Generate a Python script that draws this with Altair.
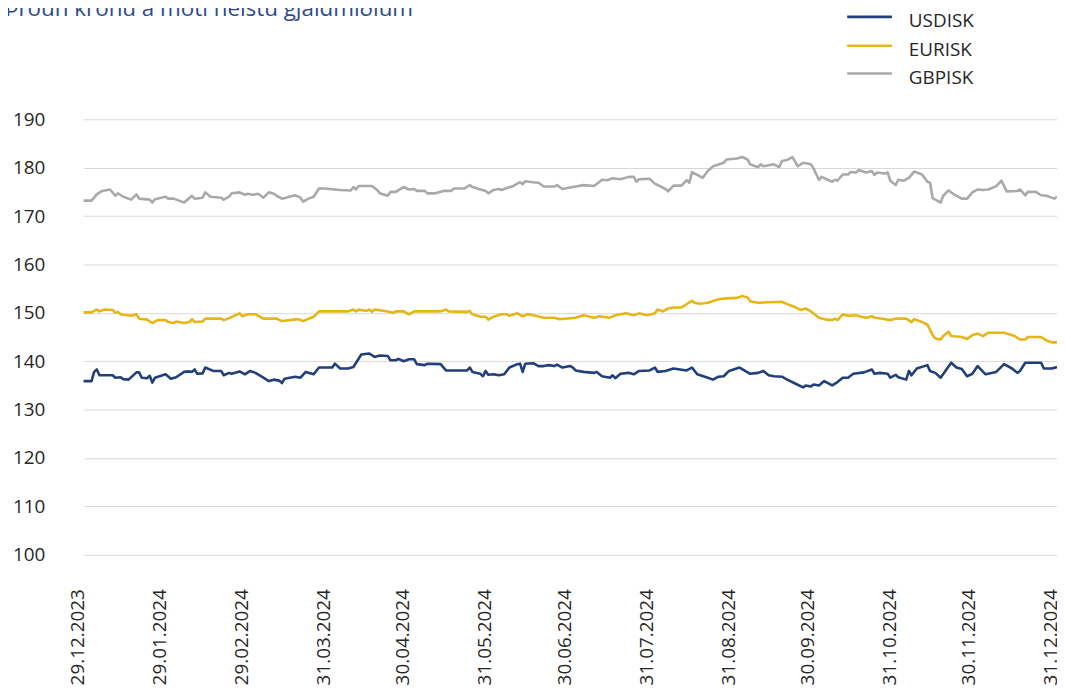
import altair as alt
import pandas as pd

title_text = "Þróun krónu á móti helstu gjaldmiðlum"
series_names = ["USDISK", "EURISK", "GBPISK"]
series_colors = ["#213f7a", "#e8b516", "#a9a9ac"]

start_date = "2023-12-29"
tick_dates = ["2023-12-29", "2024-01-29", "2024-02-29", "2024-03-31", "2024-04-30",
              "2024-05-31", "2024-06-30", "2024-07-31", "2024-08-31", "2024-09-30",
              "2024-10-31", "2024-11-30", "2024-12-31"]
y_ticks = [100, 110, 120, 130, 140, 150, 160, 170, 180, 190]

# days after 29.12.2023
usd_days = [0, 3, 4, 5, 6, 11, 12, 14, 15, 17, 20, 21, 22, 24, 25, 26, 27, 31, 33, 35, 38, 40, 41, 42, 43,
            45, 46, 49, 52, 53, 55, 56, 59, 61, 63, 65, 68, 70, 72, 74, 75, 76, 80, 82, 84, 87, 89, 94, 95,
            97, 100, 102, 105, 108, 110, 112, 115, 116, 118, 119, 121, 123, 125, 126, 129, 130, 135, 137,
            145, 146, 147, 150, 151, 152, 153, 155, 157, 159, 161, 164, 165, 166, 167, 170, 172, 174, 176,
            178, 179, 181, 184, 185, 186, 189, 193, 194, 196, 199, 200, 201, 203, 206, 208, 210, 214, 216,
            217, 220, 223, 228, 230, 232, 236, 238, 240, 242, 244, 248, 252, 255, 257, 259, 261, 264, 266,
            269, 272, 273, 275, 276, 278, 280, 283, 285, 287, 289, 291, 295, 298, 299, 301, 304, 305, 307,
            308, 311, 312, 313, 315, 319, 320, 322, 324, 328, 330, 332, 334, 336, 338, 341, 345, 348, 351,
            353, 354, 356, 362, 363, 366, 368]
usd_vals = [135.9, 135.9, 137.8, 138.3, 137.1, 137.1, 136.6, 136.7, 136.3, 136.2, 137.7, 137.7, 136.6,
            136.5, 137.0, 135.6, 136.6, 137.3, 136.4, 136.7, 137.8, 137.9, 137.8, 138.3, 137.4, 137.5,
            138.7, 138.0, 138.0, 137.1, 137.6, 137.4, 137.9, 137.3, 138.0, 137.6, 136.6, 135.9, 136.2,
            136.0, 135.5, 136.4, 136.8, 136.6, 137.8, 137.3, 138.7, 138.7, 139.5, 138.5, 138.5, 138.8,
            141.4, 141.6, 140.9, 141.2, 141.1, 140.2, 140.2, 140.5, 140.0, 140.4, 140.4, 139.4, 139.2,
            139.5, 139.4, 138.1, 138.1, 138.7, 137.8, 137.4, 136.9, 138.0, 137.2, 137.3, 137.1, 137.3,
            138.7, 139.4, 139.5, 137.8, 139.5, 139.6, 139.0, 139.0, 139.2, 139.0, 139.3, 138.7, 139.0,
            138.7, 138.1, 137.8, 137.6, 137.8, 136.9, 136.6, 137.1, 136.5, 137.4, 137.6, 137.3, 138.0,
            138.1, 138.7, 137.8, 138.0, 138.5, 138.1, 138.7, 137.3, 136.6, 136.2, 136.8, 136.9, 138.0,
            138.7, 137.4, 137.6, 138.0, 137.1, 136.9, 136.8, 136.2, 135.4, 134.6, 135.0, 134.8, 135.2,
            135.0, 135.9, 135.0, 135.7, 136.6, 136.6, 137.4, 137.7, 138.3, 137.4, 137.6, 137.4, 136.6,
            137.2, 136.7, 136.2, 138.0, 137.1, 138.5, 139.2, 138.0, 137.6, 136.6, 139.7, 138.7, 138.4,
            136.9, 137.4, 139.0, 137.3, 137.8, 139.4, 138.5, 137.6, 138.0, 139.7, 139.7, 138.5, 138.5,
            138.8]

eur_days = [0, 3, 5, 6, 8, 11, 12, 13, 14, 18, 20, 21, 24, 26, 28, 31, 32, 34, 35, 38, 40, 41, 42, 45, 46,
            52, 53, 55, 59, 60, 62, 65, 68, 73, 75, 81, 83, 86, 87, 89, 100, 102, 103, 104, 107, 108, 109,
            110, 115, 117, 118, 121, 123, 125, 135, 137, 138, 145, 146, 147, 150, 152, 153, 155, 158, 160,
            161, 164, 166, 168, 170, 174, 178, 180, 182, 186, 189, 193, 195, 199, 201, 205, 208, 210, 213,
            216, 217, 219, 221, 223, 226, 230, 231, 233, 236, 240, 243, 247, 249, 251, 252, 255, 264, 266,
            269, 271, 273, 275, 278, 281, 283, 284, 285, 287, 289, 292, 294, 296, 298, 299, 302, 305, 307,
            311, 313, 314, 317, 319, 321, 322, 324, 325, 327, 328, 332, 334, 336, 338, 340, 342, 348, 352,
            354, 356, 357, 362, 364, 366, 368]
eur_vals = [150.1, 150.1, 150.7, 150.3, 150.7, 150.6, 150.0, 150.2, 149.7, 149.4, 149.7, 148.8, 148.6,
            147.9, 148.5, 148.5, 148.1, 147.9, 148.2, 147.9, 148.1, 148.7, 148.1, 148.2, 148.8, 148.8,
            148.5, 148.9, 149.9, 149.3, 149.7, 149.7, 148.8, 148.8, 148.3, 148.7, 148.3, 149.0, 149.2,
            150.3, 150.3, 150.7, 150.3, 150.7, 150.4, 150.7, 150.2, 150.7, 150.3, 150.0, 150.3, 150.3,
            149.7, 150.3, 150.3, 150.7, 150.3, 150.2, 150.4, 149.7, 149.2, 149.2, 148.6, 149.2, 149.7,
            149.7, 149.4, 149.9, 149.3, 149.7, 149.5, 149.0, 149.0, 148.7, 148.8, 149.0, 149.5, 149.0,
            149.3, 149.0, 149.5, 149.9, 149.5, 149.9, 149.5, 149.9, 150.7, 150.3, 150.9, 151.1, 151.1,
            152.5, 152.1, 151.9, 152.1, 152.8, 153.0, 153.1, 153.5, 153.2, 152.4, 152.1, 152.3, 151.8,
            151.2, 150.6, 150.9, 150.3, 149.0, 148.6, 148.5, 148.8, 148.5, 149.7, 149.4, 149.5, 149.2,
            149.0, 149.3, 149.0, 148.8, 148.5, 148.8, 148.8, 148.1, 148.7, 148.1, 147.6, 145.4, 144.7,
            144.5, 145.2, 146.1, 145.2, 145.0, 144.6, 145.4, 145.7, 145.2, 145.9, 145.9, 145.2, 144.5,
            144.5, 145.0, 145.0, 144.3, 143.9, 143.9]

gbp_days = [0, 3, 5, 7, 10, 12, 13, 15, 18, 20, 21, 25, 26, 27, 31, 32, 34, 38, 41, 42, 45, 46, 48, 52,
            53, 55, 56, 59, 61, 62, 64, 66, 68, 70, 72, 73, 75, 80, 82, 83, 85, 87, 89, 91, 97, 101, 102,
            103, 104, 109, 111, 112, 115, 116, 118, 121, 123, 125, 126, 129, 130, 133, 136, 139, 140, 144,
            146, 147, 152, 153, 155, 157, 158, 160, 162, 165, 166, 167, 170, 172, 174, 178, 179, 181, 185,
            189, 193, 196, 198, 200, 203, 206, 208, 209, 210, 214, 216, 220, 221, 223, 226, 228, 229, 230,
            232, 234, 236, 238, 242, 243, 247, 249, 251, 252, 255, 256, 257, 261, 263, 264, 266, 268, 270,
            272, 275, 276, 278, 279, 283, 284, 285, 287, 289, 290, 292, 293, 296, 298, 299, 300, 303, 304,
            305, 307, 308, 310, 312, 314, 317, 319, 320, 321, 324, 325, 327, 329, 332, 334, 336, 338, 340,
            342, 345, 347, 349, 353, 354, 356, 357, 360, 362, 364, 367, 368]
gbp_vals = [173.2, 173.2, 174.5, 175.2, 175.5, 174.2, 174.7, 174.0, 173.4, 174.5, 173.6, 173.4, 172.8,
            173.5, 174.0, 173.6, 173.6, 172.8, 174.2, 173.6, 173.8, 174.9, 174.0, 173.8, 173.4, 174.0,
            174.7, 174.9, 174.4, 174.6, 174.4, 174.6, 173.8, 174.9, 174.6, 174.2, 173.6, 174.3, 173.8,
            173.0, 173.6, 174.0, 175.7, 175.7, 175.4, 175.3, 176.0, 175.5, 176.2, 176.2, 175.4, 174.7,
            174.2, 175.0, 175.0, 176.0, 175.5, 175.6, 175.2, 175.2, 174.7, 174.7, 175.2, 175.2, 175.7,
            175.7, 176.4, 176.0, 175.2, 174.7, 175.4, 175.6, 175.4, 175.8, 176.1, 177.0, 176.6, 177.2,
            177.0, 176.9, 176.1, 176.1, 176.4, 175.6, 176.0, 176.4, 176.2, 177.5, 177.4, 177.8, 177.6,
            178.1, 178.1, 177.1, 177.6, 177.7, 176.7, 175.6, 175.1, 176.3, 176.3, 177.4, 176.9, 179.1,
            178.5, 177.9, 179.3, 180.3, 181.0, 181.7, 181.9, 182.2, 181.7, 180.7, 180.1, 180.7, 180.3,
            180.7, 180.1, 181.4, 181.6, 182.2, 180.3, 181.0, 180.7, 179.8, 177.5, 178.1, 177.1, 177.5,
            177.3, 178.6, 178.6, 179.1, 179.0, 179.5, 179.0, 179.3, 178.5, 179.0, 178.8, 179.0, 177.3,
            176.4, 177.5, 177.3, 177.9, 179.2, 178.6, 177.1, 176.9, 173.7, 172.8, 174.2, 175.3, 174.5,
            173.6, 173.6, 174.9, 175.5, 175.4, 175.5, 176.2, 177.3, 175.1, 175.2, 175.5, 174.3, 175.0,
            175.0, 174.3, 174.2, 173.6, 174.0]

FONT = "Open Sans"
TEXT_COLOR = "#262626"
TITLE_COLOR = "#2b4b8c"


def frame(name, days, vals):
    base = pd.Timestamp(start_date)
    return pd.DataFrame({
        "date": [base + pd.Timedelta(days=d) for d in days],
        "value": vals,
        "series": name,
    })


df = pd.concat([
    frame("USDISK", usd_days, usd_vals),
    frame("EURISK", eur_days, eur_vals),
    frame("GBPISK", gbp_days, gbp_vals),
], ignore_index=True)


def dt(s):
    y, m, d = (int(p) for p in s.split("-"))
    return alt.DateTime(year=y, month=m, date=d)


lines = alt.Chart(df).mark_line(strokeWidth=2.6, strokeJoin="round").encode(
    x=alt.X("date:T",
            scale=alt.Scale(domain=[dt(tick_dates[0]), dt(tick_dates[-1])], nice=False),
            axis=alt.Axis(values=[dt(s) for s in tick_dates], format="%d.%m.%Y", title=None,
                          labelAngle=270, labelAlign="right", labelBaseline="alphabetic",
                          labelPadding=34, ticks=False, tickSize=0, domain=False, grid=False,
                          labelFont=FONT, labelFontSize=19, labelColor=TEXT_COLOR,
                          labelOverlap=False, labelFlush=False, labelBound=False)),
    y=alt.Y("value:Q",
            scale=alt.Scale(domain=[y_ticks[0], y_ticks[-1]], nice=False, zero=False),
            axis=alt.Axis(values=y_ticks, title=None, ticks=False, tickSize=0, domain=False,
                          grid=True, gridColor="#d9d9d9", gridWidth=1, labelPadding=39,
                          labelFont=FONT, labelFontSize=19, labelColor=TEXT_COLOR)),
    color=alt.Color("series:N", scale=alt.Scale(domain=series_names, range=series_colors), legend=None),
    detail="series:N",
)

title_layer = alt.Chart(pd.DataFrame({"t": [title_text]})).mark_text(
    align="left", baseline="alphabetic", font=FONT, fontSize=22.5, color=TITLE_COLOR
).encode(text="t:N", x=alt.value(-79), y=alt.value(-104))

layers = [lines, title_layer]
legend_y = [-103, -74, -46]
for name, col, ly in zip(series_names, series_colors, legend_y):
    layers.append(alt.Chart(pd.DataFrame({"s": [name]})).mark_rule(strokeWidth=2.6, color=col).encode(
        x=alt.value(768), x2=alt.value(813), y=alt.value(ly)))
    layers.append(alt.Chart(pd.DataFrame({"s": [name]})).mark_text(
        align="left", baseline="alphabetic", font=FONT, fontSize=19, color=TEXT_COLOR
    ).encode(text="s:N", x=alt.value(830), y=alt.value(ly + 10)))

chart = alt.layer(*layers).properties(
    width=979, height=438,
    autosize=alt.AutoSizeParams(type="none"),
    padding={"left": 76, "top": 110, "right": 0, "bottom": 129},
).configure(background="white").configure_view(
    stroke="transparent", strokeWidth=0
).configure_axis(domain=False, ticks=False).configure_axisX(grid=False, domain=False).configure_axisY(domain=False)

chart.save("out.html", embed_options={"renderer": "svg", "actions": False})
